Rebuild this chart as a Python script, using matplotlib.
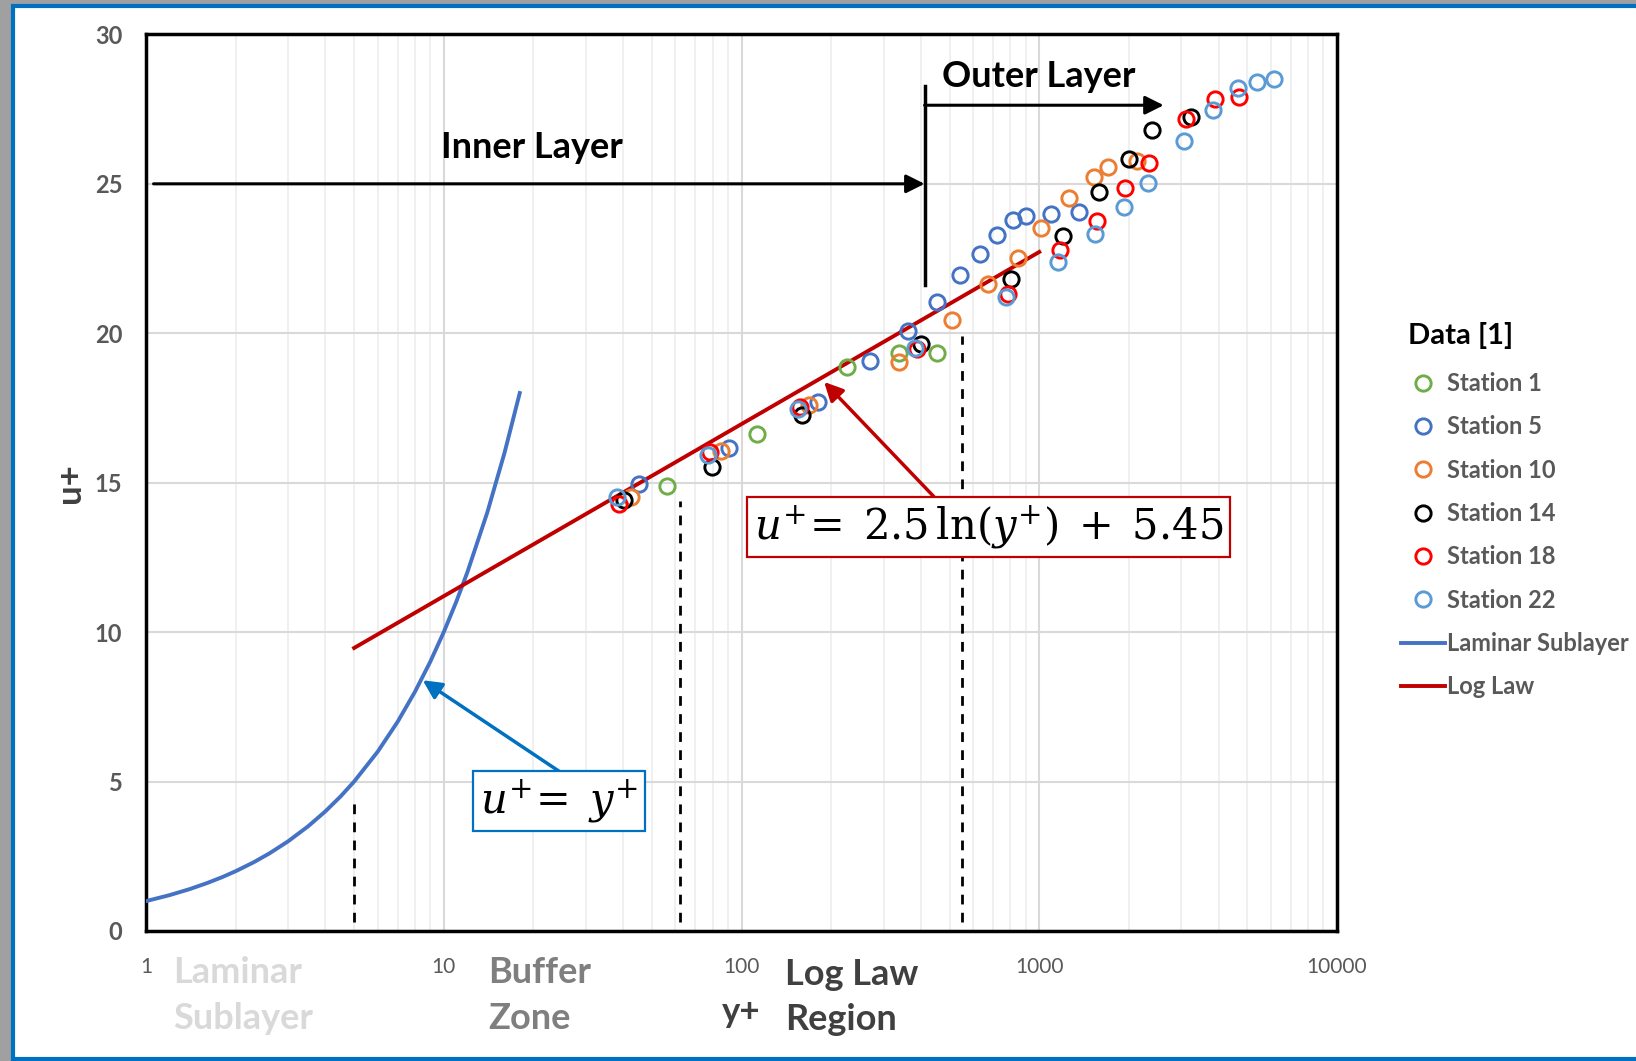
import matplotlib
matplotlib.use('Agg')
import matplotlib.pyplot as plt
from matplotlib.lines import Line2D
from matplotlib.patches import Rectangle
from matplotlib.ticker import FixedLocator, NullFormatter

plt.rcParams['font.family'] = ['Lato', 'DejaVu Sans']
plt.rcParams['mathtext.fontset'] = 'dejavuserif'

# station data (y+, u+)
st1_y = [56.4, 112.5, 225.8, 338, 453]
st1_u = [14.9, 16.62, 18.87, 19.33, 19.35]

st5_y = [45.3, 90.8, 180.4, 270.4, 363.7, 453, 542, 632, 724, 815, 903, 1093, 1361]
st5_u = [14.95, 16.15, 17.71, 19.08, 20.08, 21.06, 21.95, 22.65, 23.29, 23.80, 23.91, 24.0, 24.05]

st10_y = [42.5, 85.2, 169, 338, 508, 672, 848, 1015, 1262, 1529, 1700, 2128]
st10_u = [14.53, 16.07, 17.6, 19.05, 20.45, 21.64, 22.51, 23.52, 24.52, 25.24, 25.56, 25.75]

st14_y = [40.4, 79.8, 160.2, 400, 803, 1200, 1590, 1995, 2400, 3228]
st14_u = [14.42, 15.54, 17.27, 19.65, 21.81, 23.27, 24.74, 25.83, 26.81, 27.25]

st18_y = [38.9, 78.4, 157.3, 390, 788, 1170, 1560, 1945, 2341, 3113, 3898, 4669]
st18_u = [14.29, 16.04, 17.53, 19.47, 21.32, 22.79, 23.77, 24.85, 25.69, 27.16, 27.84, 27.92]

st22_y = [38.3, 77.4, 154.5, 383, 774, 1152, 1541, 1920, 2316, 3074, 3828, 4634, 5383, 6151]
st22_u = [14.53, 15.93, 17.47, 19.52, 21.23, 22.40, 23.33, 24.24, 25.04, 26.42, 27.48, 28.2, 28.42, 28.5]

stations = ['Station 1', 'Station 5', 'Station 10', 'Station 14', 'Station 18', 'Station 22']
colors = ['#70AD47', '#4472C4', '#ED7D31', '#000000', '#FF0000', '#5B9BD5']
xs = [st1_y, st5_y, st10_y, st14_y, st18_y, st22_y]
ys = [st1_u, st5_u, st10_u, st14_u, st18_u, st22_u]

# laminar sublayer u+ = y+
lam_y = [1, 1.2, 1.4, 1.6, 1.8, 2, 2.3, 2.6, 3, 3.5, 4, 4.5, 5, 6, 7, 8, 9, 10, 11, 12, 14, 16, 18]
lam_u = [1, 1.2, 1.4, 1.6, 1.8, 2, 2.3, 2.6, 3, 3.5, 4, 4.5, 5, 6, 7, 8, 9, 10, 11, 12, 14, 16, 18]

# log law u+ = 2.5 ln(y+) + 5.45
log_y = [5, 1000]
log_u = [9.47, 22.72]

# region boundaries
dash_x = [5, 62, 550]
dash_top = [4.45, 14.4, 19.9]

W, H = 1636, 1061
fig = plt.figure(figsize=(W / 100, H / 100), dpi=100)
fig.patch.set_facecolor('#A0A0A0')
fig.patches.append(Rectangle((13 / W, 2 / H), 1.0, (H - 8) / H, transform=fig.transFigure,
                             facecolor='white', edgecolor='#0070C0', linewidth=3, zorder=-10))

ax = fig.add_axes([146 / W, 1 - 931 / H, (1337 - 146) / W, (931 - 34.4) / H])
ax.set_xscale('log')
ax.set_xlim(1, 10000)
ax.set_ylim(0, 30)

ax.xaxis.set_major_locator(FixedLocator([1, 10, 100, 1000, 10000]))
ax.xaxis.set_minor_locator(FixedLocator([m * 10 ** d for d in range(4) for m in range(2, 10)]))
ax.xaxis.set_minor_formatter(NullFormatter())
ax.set_xticklabels(['1', '10', '100', '1000', '10000'])
ax.set_yticks([0, 5, 10, 15, 20, 25, 30])
ax.grid(True, which='major', color='#D9D9D9', linewidth=1.5, zorder=0)
ax.grid(True, which='minor', axis='x', color='#EFEFEF', linewidth=1.3, zorder=0)
ax.set_axisbelow(True)
ax.tick_params(which='both', length=0)
ax.tick_params(axis='x', pad=19, labelsize=15, labelcolor='#595959')
ax.tick_params(axis='y', pad=17, labelsize=17, labelcolor='#595959')
for lab in ax.get_yticklabels():
    lab.set_fontweight('bold')
for sp in ax.spines.values():
    sp.set_linewidth(2.5)
    sp.set_color('black')

ax.set_ylabel('u+', fontsize=25, fontweight='bold', color='#404040', labelpad=6)

# curves
ax.plot(lam_y, lam_u, color='#4472C4', linewidth=2.8, zorder=3)
ax.plot(log_y, log_u, color='#C00000', linewidth=2.8, zorder=3)

for x, y, c in zip(xs, ys, colors):
    ax.plot(x, y, linestyle='none', marker='o', markersize=11, markerfacecolor='none',
            markeredgecolor=c, markeredgewidth=2.1, zorder=4)

# dashed region boundaries
for dx, top in zip(dash_x, dash_top):
    ax.plot([dx, dx], [0.3, top], color='black', linewidth=2, dashes=(3.5, 3), zorder=2)

# inner / outer layer markers
ax.plot([412, 412], [21.6, 28.26], color='black', linewidth=2.5, zorder=2)
ax.annotate('', xy=(412, 25), xytext=(1.06, 25),
            arrowprops=dict(arrowstyle='-|>', color='black', lw=2.2, mutation_scale=28,
                            shrinkA=0, shrinkB=0))
ax.annotate('', xy=(2617, 27.63), xytext=(412, 27.63),
            arrowprops=dict(arrowstyle='-|>', color='black', lw=2.2, mutation_scale=28,
                            shrinkA=0, shrinkB=0))
ax.text(19.8, 26.2, 'Inner Layer', fontsize=26, fontweight='bold', ha='center', va='center')
ax.text(993, 28.6, 'Outer Layer', fontsize=26, fontweight='bold', ha='center', va='center')

# equation callouts
ax.annotate('', xy=(189.5, 18.37), xytext=(443, 14.53),
            arrowprops=dict(arrowstyle='-|>', color='#C00000', lw=2.5, mutation_scale=28,
                            shrinkA=0, shrinkB=0), zorder=5)
ax.text(674, 13.52, r'$u^{+}\!=\; 2.5\,\ln(y^{+})\;+\;5.45$', fontsize=30, ha='center',
        va='center', zorder=6,
        bbox=dict(boxstyle='square,pad=0.16', fc='white', ec='#C00000', lw=1.6))

ax.annotate('', xy=(8.5, 8.39), xytext=(24.6, 5.32),
            arrowprops=dict(arrowstyle='-|>', color='#0070C0', lw=2.5, mutation_scale=28,
                            shrinkA=0, shrinkB=0), zorder=5)
ax.text(24.4, 4.35, r'$u^{+}\!=\;y^{+}$', fontsize=30, ha='center', va='center', zorder=6,
        bbox=dict(boxstyle='square,pad=0.16', fc='white', ec='#0070C0', lw=1.6))

# region names under the axis
def ftext(px, py, s, **kw):
    fig.text(px / W, 1 - py / H, s, va='baseline', ha='left', fontweight='bold', **kw)

ftext(173, 983, 'Laminar', fontsize=26, color='#D9D9D9')
ftext(173, 1029, 'Sublayer', fontsize=26, color='#D9D9D9')
ftext(488, 983, 'Buffer', fontsize=26, color='#7F7F7F')
ftext(488, 1029, 'Zone', fontsize=26, color='#7F7F7F')
ftext(785, 985, 'Log Law', fontsize=26, color='#404040')
ftext(785, 1030, 'Region', fontsize=26, color='#404040')
ftext(722, 1022, 'y+', fontsize=25, color='#404040')

# legend
fig.text(1408 / W, 1 - 335 / H, 'Data [1]', fontsize=21, fontweight='bold', color='black',
         ha='left', va='center')
handles = [Line2D([], [], linestyle='none', marker='o', markersize=11, markerfacecolor='none',
                  markeredgecolor=c, markeredgewidth=2.1) for c in colors]
handles += [Line2D([], [], color='#4472C4', linewidth=2.8),
            Line2D([], [], color='#C00000', linewidth=2.8)]
labels = stations + ['Laminar Sublayer', 'Log Law']
leg = ax.legend(handles, labels, loc='upper left', bbox_to_anchor=(1401 / W, 1 - 372 / H),
                bbox_transform=fig.transFigure, frameon=False, fontsize=17,
                handlelength=1.87, handletextpad=0.08, labelspacing=0.86, borderpad=0,
                borderaxespad=0)
for t in leg.get_texts():
    t.set_color('#595959')
    t.set_fontweight('bold')

fig.savefig('out.png', dpi=100, facecolor=fig.get_facecolor())
